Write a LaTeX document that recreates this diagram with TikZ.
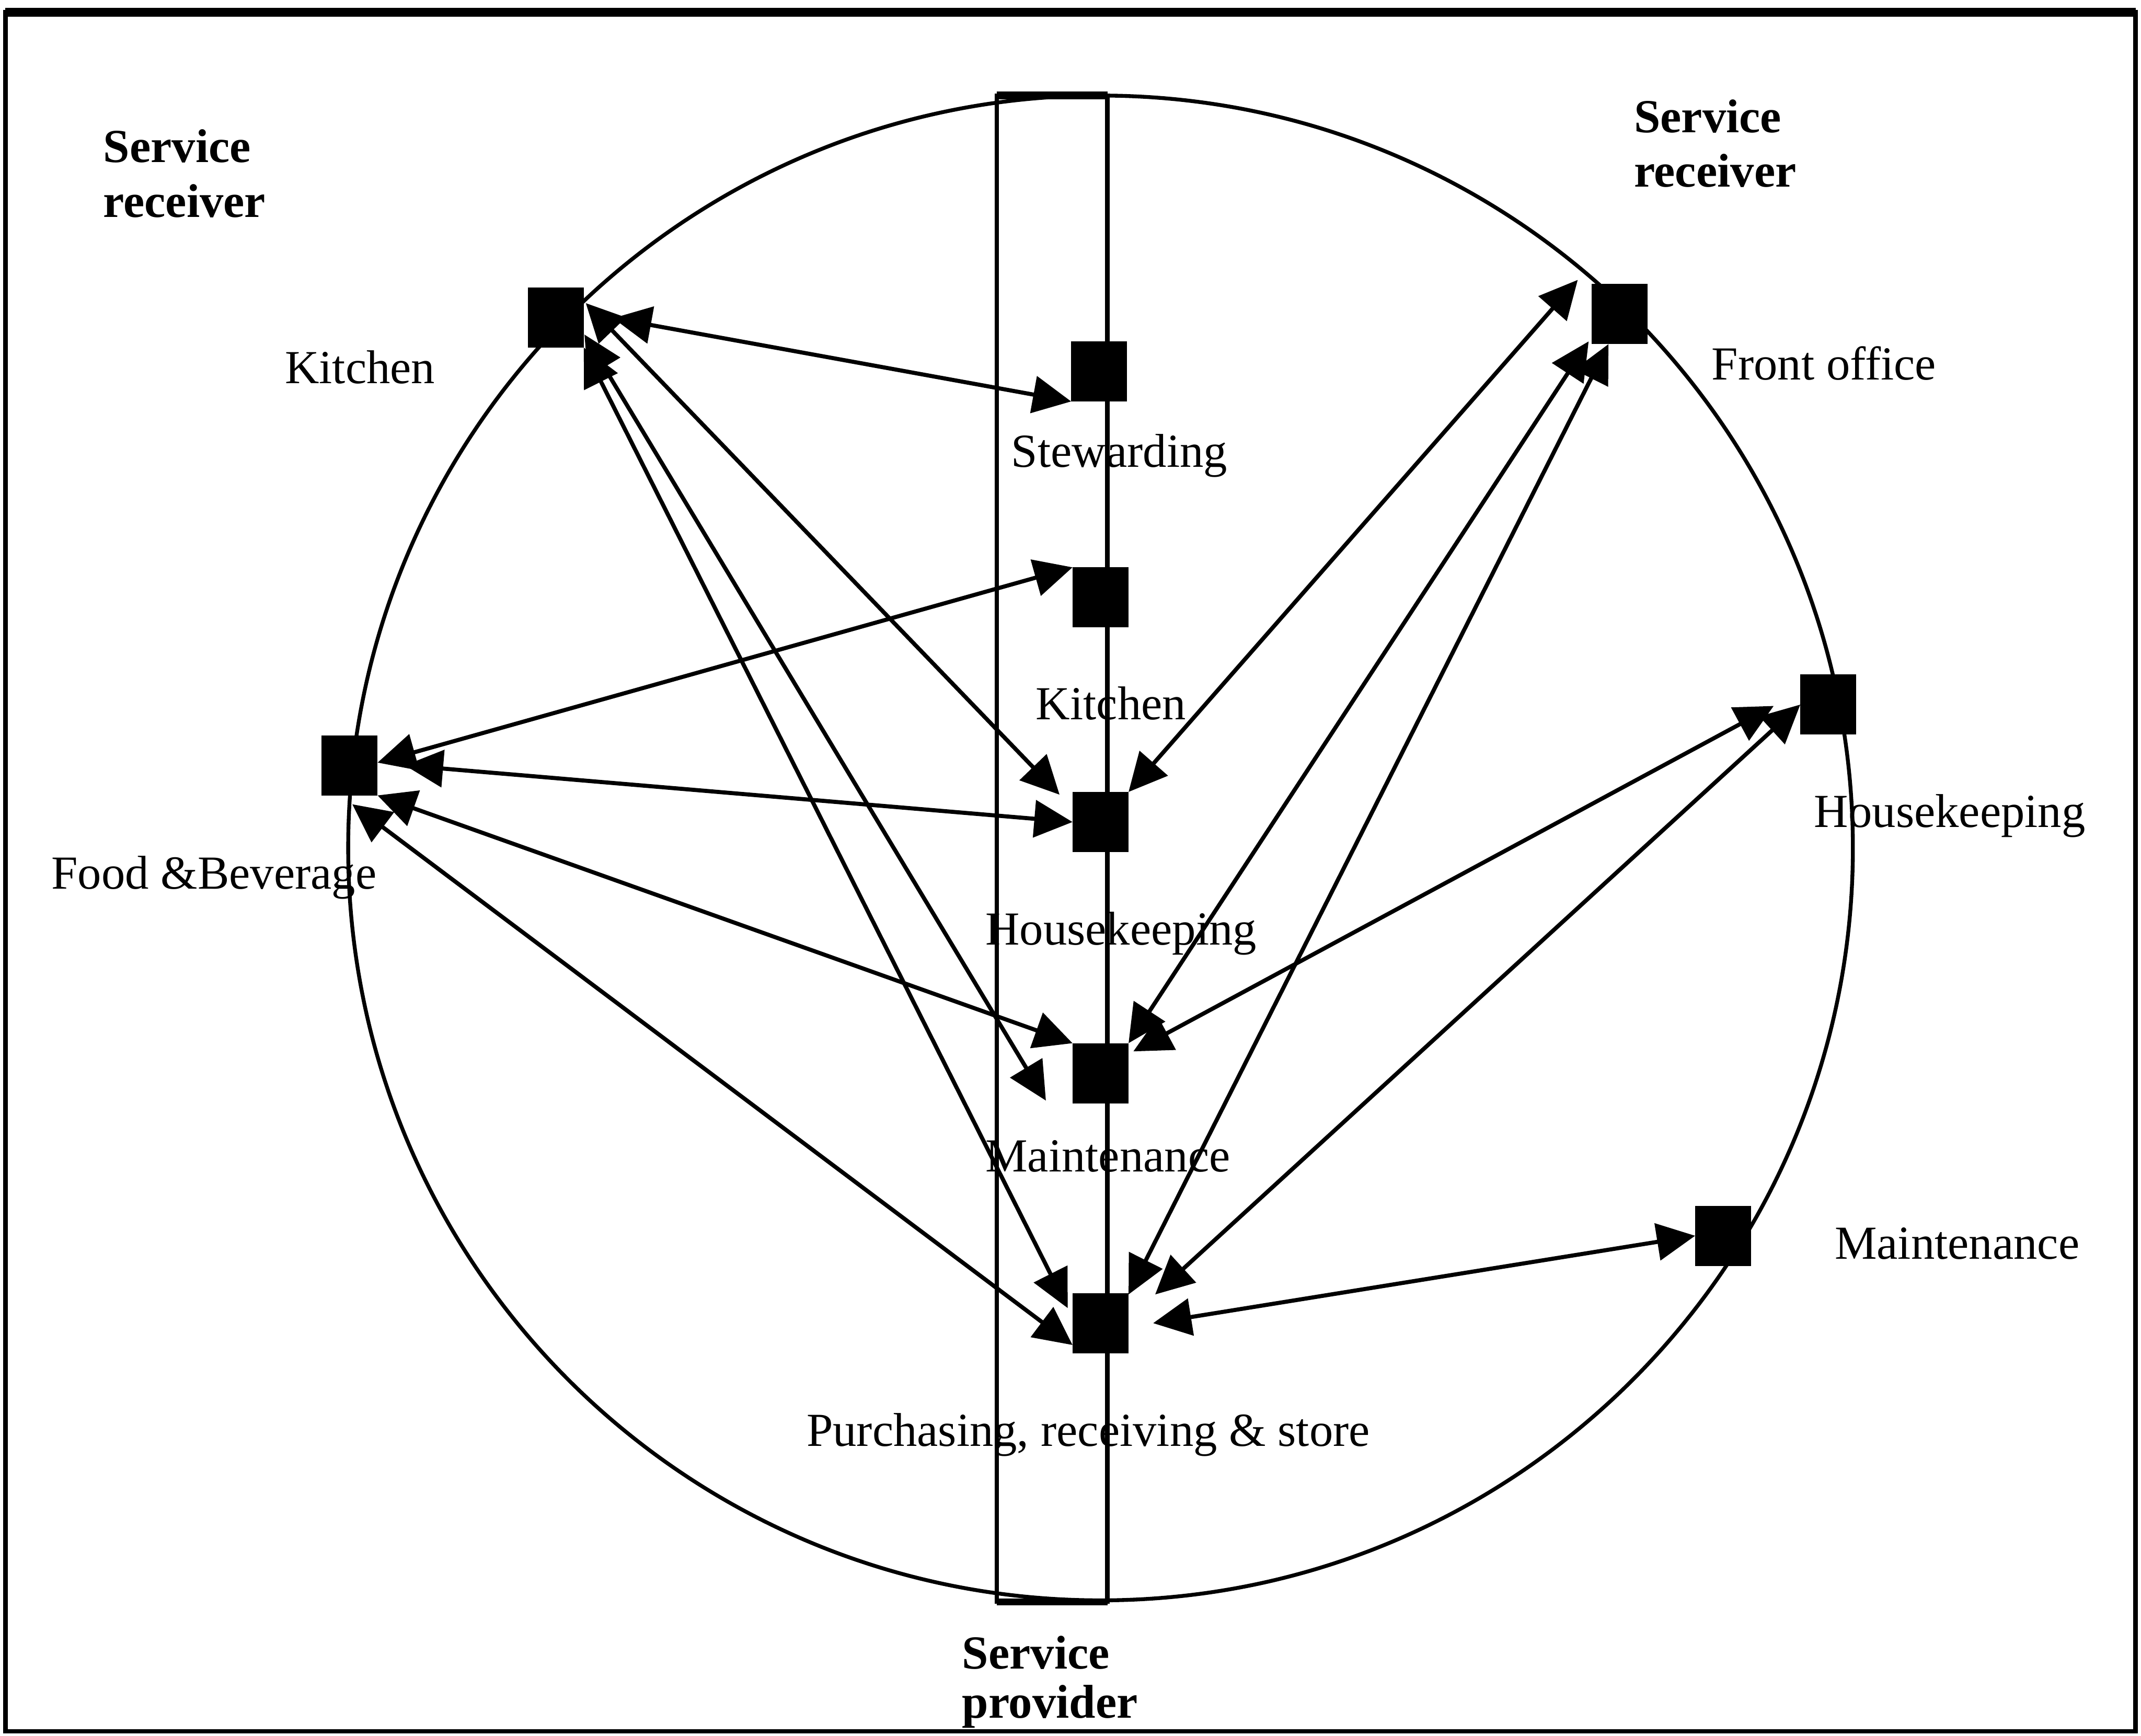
\documentclass[tikz,border=0pt]{standalone}
\usepackage{fontspec}
\setmainfont{Liberation Serif}
\usetikzlibrary{arrows.meta,calc}
\begin{document}
\begin{tikzpicture}[x=0.01cm,y=-0.01cm,
  box/.style={fill=black,draw=none,minimum width=0.41cm,minimum height=0.44cm,inner sep=0pt,outer sep=0pt},
  lbl/.style={anchor=base west,inner sep=0pt,font=\fontsize{9.87pt}{12pt}\selectfont},
  head/.style={anchor=base west,inner sep=0pt,font=\fontsize{9.87pt}{12pt}\selectfont\bfseries},
  link/.style={line width=0.85pt,{Triangle[length=0.28cm,width=0.27cm]}-{Triangle[length=0.28cm,width=0.27cm]}},
]
\useasboundingbox (0,0) rectangle (1568,1271);

% outer frame
\draw[line width=0.9pt] (4,9) rectangle (1564,1268);
\draw[line width=1.8pt] (4,9) -- (1564,9);

% circle of departments
\draw[line width=0.8pt] (806,621) circle[radius=551];

% service provider strip
\draw[line width=0.9pt] (730,70) rectangle (811,1173);
\draw[line width=1.6pt] (730,70) -- (811,70);
\draw[line width=1.4pt] (730,1173) -- (811,1173);

% department markers
\node[box] (kl) at (407,232.5) {};
\node[box] (st) at (805,272) {};
\node[box] (kp) at (806,437.5) {};
\node[box] (hp) at (806,602) {};
\node[box] (mp) at (806,786) {};
\node[box] (pr) at (806,969) {};
\node[box] (fb) at (256,560.5) {};
\node[box] (fo) at (1186,230) {};
\node[box] (hr) at (1339,516) {};
\node[box] (mr) at (1262,905) {};

% headings
\node[head] (srl1) at (75,119) {Service};
\node[head] (srl2) at (75,159) {receiver};
\node[head] (srr1) at (1196,97) {Service};
\node[head] (srr2) at (1196,137) {receiver};
\node[head] (sp1) at (704,1222) {Service};
\node[head] (sp2) at (704,1258) {provider};

% department labels
\node[lbl] (tkl) at (208,281) {Kitchen};
\node[lbl] (tst) at (740,342) {Stewarding};
\node[lbl] (tkp) at (758,527) {Kitchen};
\node[lbl] (thp) at (721,692) {Housekeeping};
\node[lbl] (tmp) at (721,858) {Maintenance};
\node[lbl] (tpr) at (590,1059) {Purchasing, receiving \& store};
\node[lbl] (tfb) at (37,651) {Food \&Beverage};
\node[lbl] (tfo) at (1253,278) {Front office};
\node[lbl] (thr) at (1328,606) {Housekeeping};
\node[lbl] (tmr) at (1343,922) {Maintenance};

% service links
\draw[link] ($(kl.east)+(21.5,0.5)$) -- (st.south west);
\draw[link] ($(kl.east)+(1.5,-10.5)$) -- ($(hp.north west)+(-9.5,2)$);
\draw[link] ($(kl.east)+(0.5,12.5)$) -- ($(mp.south west)+(-19.5,-2)$);
\draw[link] (kl.south east) -- ($(pr.west)+(-3.5,-11)$);

\draw[link] ($(fb.east)+(0,-2)$) -- (kp.north west);
\draw[link] ($(fb.east)+(20,0)$) -- (hp.west);
\draw[link] (fb.south east) -- (mp.north west);
\draw[link] ($(fb.south)+(2,6.5)$) -- ($(pr.west)+(0,16)$);

\draw[link] ($(fo.north west)+(-10,-3)$) -- (hp.north east);
\draw[link] ($(fo.south west)+(-2,-2)$) -- (mp.north east);
\draw[link] ($(fo.south)+(-8,0)$) -- ($(pr.north east)+(0,1)$);

\draw[link] ($(hr.west)+(-19.5,1)$) -- ($(mp.north east)+(3.5,6)$);
\draw[link] (hr.west) -- ($(pr.north east)+(19.5,1)$);

\draw[link] (mr.west) -- ($(pr.east)+(18,0)$);
\end{tikzpicture}
\end{document}
